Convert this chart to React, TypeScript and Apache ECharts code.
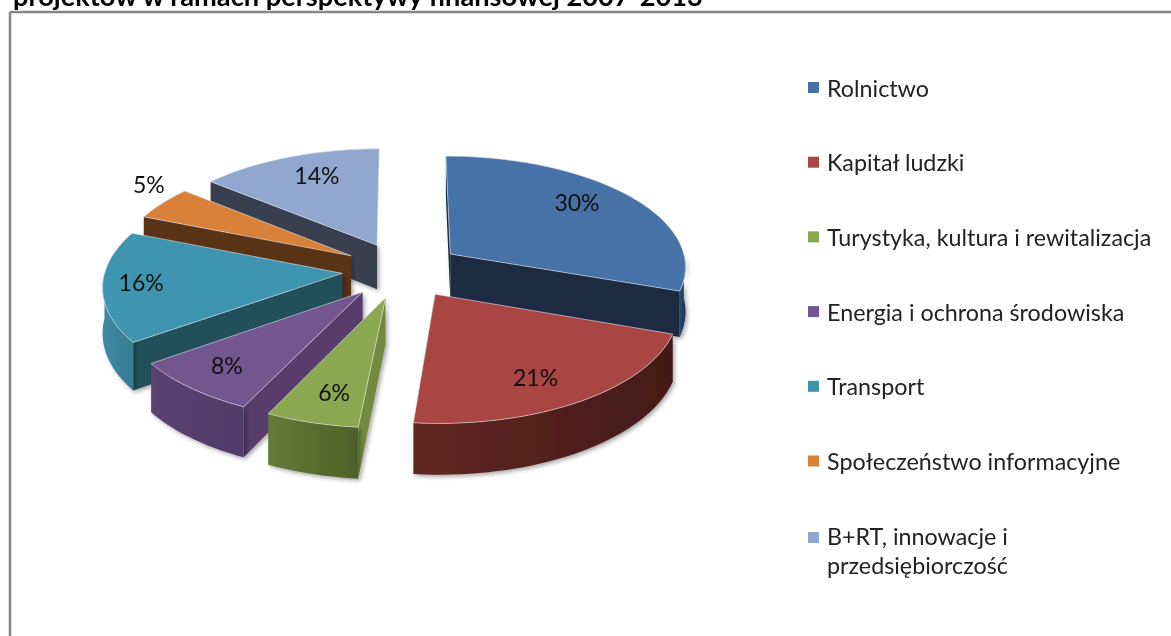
import React, { useEffect, useRef } from "react";
import * as echarts from "echarts";

const titleText = "projektów w ramach perspektywy finansowej 2007-2013";
const categories = [
  "Rolnictwo",
  "Kapitał ludzki",
  "Turystyka, kultura i rewitalizacja",
  "Energia i ochrona środowiska",
  "Transport",
  "Społeczeństwo informacyjne",
  "B+RT, innowacje i\nprzedsiębiorczość",
];
const values = [30.4, 21.1, 5.6, 8.0, 16.0, 4.9, 14.0];
const topColors = ["#4672A8", "#A94543", "#8AA84F", "#73558F", "#3F95AF", "#D98139", "#90A8D0"];
const wallColors = ["#1A2C42", "#4A1C1A", "#708B3F", "#583E6B", "#204F5C", "#5A3214", "#394150"];
const curveFrom = ["#2A4A70", "#612724", "#637A38", "#5A4272", "#3D8BA3", "#8A5020", "#5A6A85"];
const curveTo = ["#1E3450", "#451918", "#4E6128", "#513A68", "#357C92", "#6A3A18", "#404A60"];
const labelRadii = [0.77, 0.765, 0.772, 0.787, 0.841, 1.18, 0.764];
const labelSweeps = [0.447, 0.54, 0.44, 0.54, 0.528, 0.858, 0.565];

const CX = 402, CY = 270, R = 237, K = 0.468, P = 0.000427, EXPLODE = 60, H = 45;
const total = values.reduce((a, b) => a + b, 0);

function project(x: number, y: number, down = 0): number[] {
  const s = 1 / (1 - P * y);
  return [CX + x * s, CY + K * y * s + down * s];
}

function renderSlice(index: number) {
  const before = values.slice(0, index).reduce((a, b) => a + b, 0);
  const a0 = (before / total) * 360;
  const a1 = ((before + values[index]) / total) * 360;
  const mid = ((a0 + a1) / 2) * Math.PI / 180;
  const ox = Math.sin(mid) * EXPLODE;
  const oy = -Math.cos(mid) * EXPLODE;
  const pt = (deg: number, r: number, down = 0) => {
    const t = (deg * Math.PI) / 180;
    return project(ox + Math.sin(t) * r, oy - Math.cos(t) * r, down);
  };
  const arc = (from: number, to: number, down = 0) => {
    const n = Math.max(2, Math.ceil(Math.abs(to - from) / 2));
    const out: number[][] = [];
    for (let i = 0; i <= n; i++) out.push(pt(from + ((to - from) * i) / n, R, down));
    return out;
  };
  const shadow = { shadowBlur: 4, shadowColor: "rgba(0,0,0,0.35)", shadowOffsetX: 2, shadowOffsetY: 2 };
  const edge = { stroke: "rgba(225,228,232,0.75)", lineWidth: 0.8 };
  const wall = { fill: wallColors[index], ...shadow };
  const children: any[] = [];
  // a radial wall is drawn only if it faces the viewer
  if (-Math.sin((a0 * Math.PI) / 180) > -1e-6)
    children.push({ type: "polygon", shape: { points: [pt(a0, 0), pt(a0, R), pt(a0, R, H), pt(a0, 0, H)] }, style: wall });
  if (Math.sin((a1 * Math.PI) / 180) > 1e-6)
    children.push({ type: "polygon", shape: { points: [pt(a1, 0), pt(a1, R), pt(a1, R, H), pt(a1, 0, H)] }, style: wall });
  const vis0 = Math.max(a0, 90), vis1 = Math.min(a1, 270);
  if (vis1 > vis0) {
    children.push({
      type: "polygon",
      shape: { points: [...arc(vis0, vis1), ...arc(vis1, vis0, H)] },
      style: {
        fill: new echarts.graphic.LinearGradient(1, 0, 0, 0, [
          { offset: 0, color: curveTo[index] },
          { offset: 1, color: curveFrom[index] },
        ]),
        ...shadow,
      },
    });
  }
  children.push({
    type: "polygon",
    shape: { points: [pt(a0, 0), ...arc(a0, a1)] },
    style: { fill: topColors[index], ...edge },
  });
  const lp = pt(a0 + (a1 - a0) * labelSweeps[index], R * labelRadii[index]);
  children.push({
    type: "text",
    style: {
      text: Math.round(values[index]) + "%",
      x: lp[0],
      y: lp[1],
      align: "center",
      verticalAlign: "middle",
      fontFamily: "Lato",
      fontSize: 23,
      fill: "#111",
    },
  });
  return { type: "group", children };
}

// painter's order: the slice whose bisector points furthest away is drawn first
function depthRank(index: number) {
  const before = values.slice(0, index).reduce((a, b) => a + b, 0);
  const mid = ((before + values[index] / 2) / total) * 2 * Math.PI;
  return -Math.cos(mid);
}

export default function App() {
  const ref = useRef<HTMLDivElement>(null);
  useEffect(() => {
    const chart = echarts.init(ref.current!, null, { renderer: "svg" });
    const ranks = values.map((_, i) => i).sort((a, b) => depthRank(a) - depthRank(b));
    const lastIndex = categories.length - 1;
    chart.setOption({
      animation: false,
      color: topColors,
      title: {
        text: titleText,
        left: 8,
        top: -23,
        textStyle: { fontFamily: "Lato", fontWeight: "bold", fontSize: 27.2, color: "#000" },
      },
      legend: {
        orient: "vertical",
        left: 803,
        top: 68,
        height: 560,
        icon: "rect",
        itemWidth: 11,
        itemHeight: 11,
        itemGap: 45.7,
        selectedMode: false,
        textStyle: { fontFamily: "Lato", fontSize: 23.3, lineHeight: 29, color: "#222", padding: [0, 0, 0, 3] },
        data: categories.map((name, i) =>
          i === lastIndex ? { name, itemStyle: { opacity: 0 } } : { name }
        ),
      },
      graphic: [
        { type: "line", shape: { x1: 10, y1: 12, x2: 1171, y2: 12 }, style: { stroke: "#868686", lineWidth: 2.5 } },
        { type: "line", shape: { x1: 10, y1: 12, x2: 10, y2: 636 }, style: { stroke: "#868686", lineWidth: 2.5 } },
        // the last legend entry wraps; its marker sits beside the first line, not between the two
        { type: "rect", shape: { x: 808, y: 532, width: 11, height: 11 }, style: { fill: topColors[lastIndex] } },
      ],
      series: categories.map((name, i) => ({
        type: "custom",
        name,
        coordinateSystem: "none",
        z: 2 + ranks.indexOf(i),
        silent: true,
        itemStyle: { color: topColors[i] },
        data: [values[i]],
        renderItem: () => renderSlice(i),
      })),
    });
    return () => chart.dispose();
  }, []);
  return <div ref={ref} style={{ position: "absolute", left: 0, top: 0, width: 1171, height: 636, background: "#fff", filter: "blur(0.4px)" }} />;
}
